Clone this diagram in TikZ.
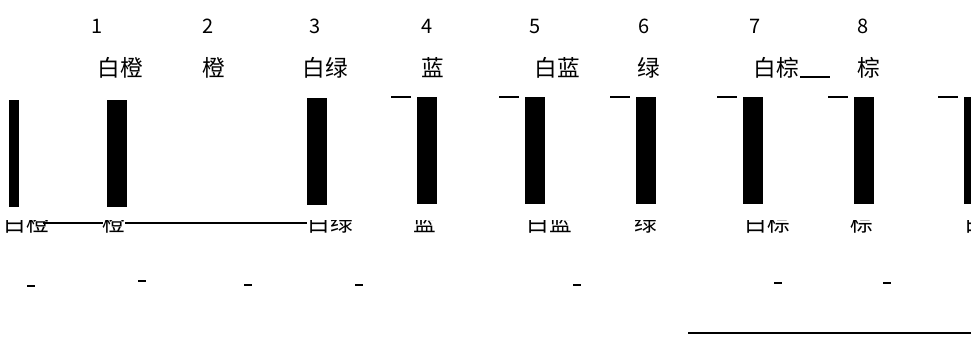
\documentclass[tikz,border=0pt]{standalone}
\usepackage{fontspec}
\newfontfamily\cjk{Noto Sans CJK SC}
\usetikzlibrary{calc}
\tikzset{
  num/.style={font=\cjk\fontsize{15}{15}\selectfont, inner sep=0pt, anchor=base},
  lab/.style={font=\cjk\fontsize{17}{17}\selectfont, inner sep=0pt, anchor=base},
  barbox/.style={fill=black, draw=none, inner sep=0pt, outer sep=0pt, anchor=north west, minimum width=15pt, minimum height=80pt},
  tick/.style={line width=1.5pt},
  thinline/.style={line width=1.3pt},
  dashmark/.style={line width=1.5pt}
}
\begin{document}
\begin{tikzpicture}[x=0.75pt,y=-0.75pt]
\useasboundingbox (0,0) rectangle (971,336);
% numbers
\node[num] (n1) at (97,33) {1};
\node[num] (n2) at (208,33) {2};
\node[num] (n3) at (315,33) {3};
\node[num] (n4) at (427,33) {4};
\node[num] (n5) at (535,33) {5};
\node[num] (n6) at (644,33) {6};
\node[num] (n7) at (755,33) {7};
\node[num] (n8) at (863,33) {8};
% top labels
\node[lab] (t1) at (120,76) {白橙};
\node[lab] (t2) at (214,76) {橙};
\node[lab] (t3) at (325,76) {白绿};
\node[lab] (t4) at (433,76) {蓝};
\node[lab] (t5) at (557,76) {白蓝};
\node[lab] (t6) at (649,76) {绿};
\node[lab] (t7) at (776,76) {白棕};
\node[lab] (t8) at (869,76) {棕};
\coordinate (u7) at (830,77);
\draw[thinline] (800,77) coordinate (u7s) -- (u7);
% bars
\node[barbox, minimum width=7.5pt] (b0) at (9,100) {};
\node[barbox] (b1) at (107,100) {};
\node[barbox] (b3) at (307,98) {};
\node[barbox] (b4) at (417,97) {};
\node[barbox] (b5) at (525,97) {};
\node[barbox] (b6) at (636,97) {};
\node[barbox] (b7) at (743,97) {};
\node[barbox] (b8) at (854,97) {};
\node[barbox] (b9) at (964,97) {};
% ticks
\foreach \b in {b4,b5,b6,b7,b8,b9}{
  \draw[tick] ($(\b.north west)+(-26,0)$) -- ($(\b.north west)+(-6,0)$);
}
% bottom clipped labels
\begin{scope}
\clip (0,220) rectangle (971,236);
\node[lab] (l0) at (26,231) {白橙};
\node[lab] (l1) at (114,231) {橙};
\node[lab] (l3) at (330,231) {白绿};
\node[lab] (l4) at (425,231) {蓝};
\node[lab] (l5) at (549,231) {白蓝};
\node[lab] (l6) at (646,231) {绿};
\node[lab] (l7) at (767,231) {白棕};
\node[lab] (l8) at (862,231) {棕};
\node[lab] (l9) at (976,231) {白};
\end{scope}
\coordinate (c1) at (43,223);
\coordinate (c2) at (103,223);
\coordinate (c3) at (125,223);
\coordinate (c4) at (307,223);
\draw[thinline] (c1) -- (c2);
\draw[thinline] (c3) -- (c4);
% small marks
\foreach \x/\y in {27/286,138/281,244/285,355/285,573/285,774/283,883/283}{
  \draw[dashmark] (\x,\y) -- ++(8,0);
}
% bottom right line
\coordinate (r1) at (688,333);
\coordinate (r2) at (971,333);
\draw[line width=1.5pt] (r1) -- (r2);
\end{tikzpicture}
\end{document}
